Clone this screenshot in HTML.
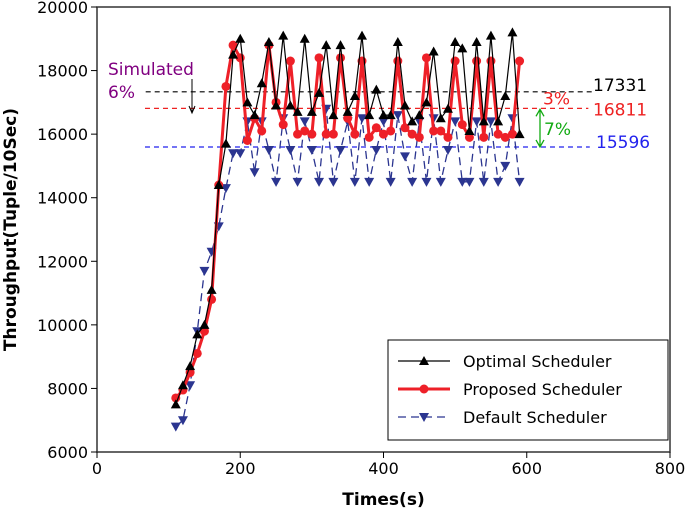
<!DOCTYPE html>
<html><head><meta charset="utf-8"><style>
body{margin:0;background:#fff;}
svg{display:block;font-family:"DejaVu Sans","Liberation Sans",sans-serif;}
</style></head><body>
<svg id="chart" width="685" height="513"></svg>
<script>
const xs=[];for(let t=110;t<=590;t+=10)xs.push(t);
const optimal=[7500,8100,8700,9700,10000,11100,14400,15700,18500,19000,17000,16600,17600,18900,16900,19100,16900,16700,19000,16700,17300,18800,16600,18800,16700,17200,19100,16600,17400,16600,16600,18900,16900,16400,16600,17000,18600,16500,16800,18900,18700,16100,18900,16400,19100,16400,17200,19200,16000];
const proposed=[7700,7950,8500,9100,9800,10800,14400,17500,18800,18400,15800,16500,16100,18800,17000,16300,18300,16000,16100,16000,18400,16000,16000,18400,16500,16000,18300,15900,16200,16000,16100,18300,16200,16000,15900,18400,16100,16100,15900,18300,16300,15900,18300,15900,18300,16000,15900,16000,18300];
const defaults=[6800,7000,8100,9800,11700,12300,13100,14300,15400,15400,16400,14800,16400,15500,14500,16500,15500,14500,16400,15500,14500,16800,14500,15500,16400,14500,16500,14500,15500,16400,14500,16600,15300,14500,16400,14500,16500,14500,15500,16400,14500,14500,16400,14500,16400,14500,15000,16500,14500];
const xTicks=[0,200,400,600,800];
const yTicks=[6000,8000,10000,12000,14000,16000,18000,20000];
const refValues=[17331,16811,15596];
const NS="http://www.w3.org/2000/svg";
const svg=document.getElementById('chart');
const L=97,R=670,T=7,B=452;
const X=v=>L+(v-0)/800*(R-L);
const Y=v=>B-(v-6000)/14000*(B-T);
function el(tag,attrs,parent){const e=document.createElementNS(NS,tag);for(const k in attrs)e.setAttribute(k,attrs[k]);(parent||svg).appendChild(e);return e;}
function txt(s,attrs){const e=el('text',attrs);e.textContent=s;return e;}
let f=el('rect',{x:L,y:T,width:R-L,height:B-T,fill:'none',stroke:'#333','stroke-width':1.5});


xTicks.forEach(v=>{
 let l=el('line',{x1:X(v),x2:X(v),y1:B,y2:B+6,stroke:'#000'});
 
 
 let t=txt(v,{x:X(v),y:B+22,'text-anchor':'middle','font-size':16});
 
 
});
yTicks.forEach(v=>{
 let l=el('line',{x1:L-6,x2:L,y1:Y(v),y2:Y(v),stroke:'#000'});
 
 
 let t=txt(v,{x:L-9,y:Y(v)+6,'text-anchor':'end','font-size':16});
 
 
});
let xt=txt('Times(s)',{x:(L+R)/2,y:505,'text-anchor':'middle','font-size':17,'font-weight':'bold'});


let yt=txt('Throughput(Tuple/10Sec)',{x:0,y:0,'text-anchor':'middle','font-size':17,'font-weight':'bold',transform:'translate(16,'+((T+B)/2)+') rotate(-90)'});


const refCols=['#000','#e22','#22e'];
const refX=[[68,692],[67,686],[67,688]];
refValues.forEach((v,i)=>{
 let l=el('line',{x1:X(refX[i][0]),x2:X(refX[i][1]),y1:Y(v),y2:Y(v),stroke:refCols[i],'stroke-dasharray':'5,4','stroke-width':1.2});
 
 
});
let a1=txt('17331',{x:593,y:Y(refValues[0])-1,'font-size':17,fill:'#000'});
let a2=txt('16811',{x:593,y:Y(refValues[1])+7,'font-size':17,fill:'#e22'});
let a3=txt('15596',{x:596,y:Y(refValues[2])+1,'font-size':17,fill:'#22e'});
let a4=txt('3%',{x:543,y:Y(refValues[1])-4,'font-size':17,fill:'#e22'});
let a5=txt('7%',{x:544,y:135,'font-size':17,fill:'#1a1'});
let g=el('path',{d:`M540 ${Y(refValues[1])+2} V${Y(refValues[2])-1} M536 ${Y(refValues[1])+8} L540 ${Y(refValues[1])+1} L544 ${Y(refValues[1])+8} M536 ${Y(refValues[2])-7} L540 ${Y(refValues[2])} L544 ${Y(refValues[2])-7}`,stroke:'#1a1',fill:'none','stroke-width':1.3});

let s1=txt('Simulated',{x:108,y:75,'font-size':17,fill:'#800080'});
let s2=txt('6%',{x:108,y:98,'font-size':17,fill:'#800080'});
let sa=el('path',{d:'M192 79 V112 M189 106 L192 113 L195 106',stroke:'#000',fill:'none'});
function series(vals,color,dash,width,marker,name){
 const d=vals.map((v,i)=>(i?'L':'M')+X(xs[i]).toFixed(1)+' '+Y(v).toFixed(1)).join(' ');
 let p=el('path',{d,fill:'none',stroke:color,'stroke-width':width,'stroke-dasharray':dash});
 
 
 vals.forEach((v,i)=>{
  const cx=X(xs[i]),cy=Y(v);let m;
  if(marker==='tri')m=el('path',{d:`M${cx} ${cy-5} L${cx+5} ${cy+4} L${cx-5} ${cy+4}Z`,fill:color});
  else if(marker==='circ')m=el('circle',{cx,cy,r:4.5,fill:color});
  else m=el('path',{d:`M${cx} ${cy+5} L${cx+5} ${cy-4} L${cx-5} ${cy-4}Z`,fill:color});
  
  
 });
}
series(defaults,'#2b3590','8,5',1.3,'itri','default-scheduler');
series(proposed,'#ee2028','',3,'circ','proposed-scheduler');
series(optimal,'#000','',1.2,'tri','optimal-scheduler');
let lg=el('rect',{x:388,y:340,width:280,height:100,fill:'#fff',stroke:'#000'});

const leg=[['Optimal Scheduler','#000','',1.2,'tri'],['Proposed Scheduler','#ee2028','',3,'circ'],['Default Scheduler','#2b3590','8,5',1.3,'itri']];
leg.forEach((e,i)=>{
 const y=361+i*28;
 let l=el('line',{x1:398,x2:450,y1:y,y2:y,stroke:e[1],'stroke-width':e[3],'stroke-dasharray':e[2]});
 
 const cx=424;let m;
 if(e[4]==='tri')m=el('path',{d:`M${cx} ${y-5} L${cx+5} ${y+4} L${cx-5} ${y+4}Z`,fill:e[1]});
 else if(e[4]==='circ')m=el('circle',{cx,cy:y,r:4.5,fill:e[1]});
 else m=el('path',{d:`M${cx} ${y+5} L${cx+5} ${y-4} L${cx-5} ${y-4}Z`,fill:e[1]});
 
 let t=txt(e[0],{x:463,y:y+6,'font-size':16});
 
});
</script>
</body></html>
